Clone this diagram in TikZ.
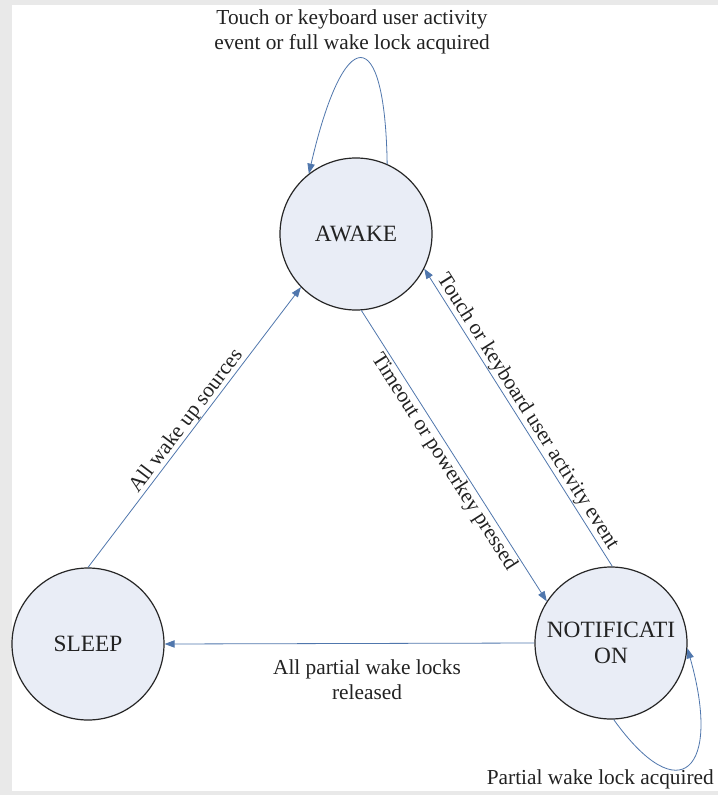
\documentclass[tikz,border=0pt]{standalone}
\usepackage{fontspec}
\setmainfont{Liberation Serif}
\usetikzlibrary{arrows.meta}
\definecolor{arrowblue}{HTML}{5077AD}
\definecolor{statefill}{HTML}{E9EDF6}
\definecolor{framegray}{HTML}{E9E9E9}
\definecolor{txt}{HTML}{222222}
\tikzset{
  state/.style={circle, draw=black!85, line width=0.9pt, fill=statefill,
    minimum size=114pt, inner sep=0pt, align=center, text=txt,
    font=\fontsize{17.5}{19}\selectfont},
  arr/.style={draw=arrowblue, line width=0.6pt,
    -{Triangle[length=7.5pt,width=5.5pt,fill=arrowblue]}},
  lbl/.style={text=txt, font=\fontsize{16}{18.5}\selectfont, align=center, inner sep=1.5pt}
}
\begin{document}
\begin{tikzpicture}[x=0.75pt,y=-0.75pt]
\useasboundingbox (0,0) rectangle (718,795);
\fill[white] (0,0) rectangle (718,795);
\fill[framegray] (0,0) rectangle (12,795);
\fill[framegray] (0,0) rectangle (718,5);
\fill[framegray] (0,791) rectangle (718,795);

\node[state] (awake) at (356,234) {AWAKE};
\node[state] (sleep) at (88,644) {SLEEP};
\node[state] (notif) at (611,643) {NOTIFICATI\\ON};

% self loop on AWAKE
\draw[arr] (awake.66) .. controls (385,22) and (344,22) .. (awake.128);
\node[lbl] (toplbl) at (352,32) {Touch or keyboard user activity\\event or full wake lock acquired};

% SLEEP -> AWAKE
\draw[arr] (sleep.90) -- node[lbl, sloped, above, inner sep=0pt, pos=0.5] (l1) {All wake up sources} (awake.224);

% AWAKE -> NOTIFICATION
\draw[arr] (awake.-86) -- node[lbl, sloped, below, pos=0.5] (l2) {Timeout or powerkey pressed} (notif.147);

% NOTIFICATION -> AWAKE
\draw[arr] (notif.89) -- node[lbl, sloped, above, inner sep=0.5pt, pos=0.5] (l3) {Touch or keyboard user activity event} (awake.-27);

% NOTIFICATION -> SLEEP
\draw[arr] (notif.180) -- (sleep.0);
\node[lbl] (l4) at (367,680) {All partial wake locks\\released};

% self loop on NOTIFICATION
\draw[arr] (notif.-88) .. controls (680,812) and (722,770) .. (notif.-4);
\node[lbl, anchor=east] (l5) at (716,779) {Partial wake lock acquired};
\end{tikzpicture}
\end{document}
